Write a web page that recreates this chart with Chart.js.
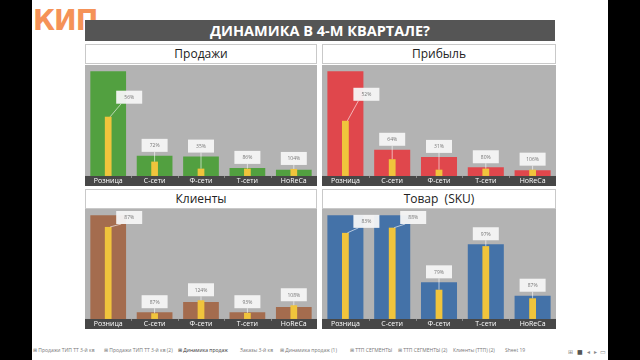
<!DOCTYPE html>
<html><head><meta charset="utf-8">
<script src="https://cdn.jsdelivr.net/npm/chart.js@4.4.1/dist/chart.umd.min.js"></script>
<style>
html,body{margin:0;padding:0;background:#fff;}
#stage{position:relative;width:640px;height:360px;overflow:hidden;background:#fff;font-family:"Open Sans",sans-serif;}
.blk{position:absolute;top:0;height:360px;background:#000;}
#logo{position:absolute;left:33px;top:3px;width:56px;height:34px;font:900 29px "DejaVu Sans",sans-serif;color:#f59258;line-height:34px;letter-spacing:-1px;transform:scaleX(0.93);transform-origin:left top;}
#title{position:absolute;left:85px;top:20px;width:470px;height:21px;background:#555;color:#fff;font:bold 14.5px "Open Sans",sans-serif;text-align:center;line-height:21px;}
.hdr{position:absolute;height:18px;background:#fff;border:1px solid #c9c9c9;box-sizing:content-box;text-align:center;font:12px "Open Sans",sans-serif;color:#222;line-height:18px;}
canvas.c{position:absolute;}
.tab{position:absolute;top:347px;font:5px "Open Sans",sans-serif;color:#777;white-space:nowrap;}
.ico{position:absolute;top:348px;font:6px "DejaVu Sans",sans-serif;color:#888;}
</style></head>
<body><div id="stage">
<div class="blk" style="left:0;width:32px"></div>
<div class="blk" style="left:608px;width:32px"></div>
<div id="logo">КИП</div>
<div id="title">ДИНАМИКА В 4-М КВАРТАЛЕ?</div>
<div class="hdr" style="left:85px;top:44px;width:230px">Продажи</div>
<div class="hdr" style="left:322px;top:44px;width:232px">Прибыль</div>
<div class="hdr" style="left:85px;top:189px;width:230px">Клиенты</div>
<div class="hdr" style="left:322px;top:189px;width:232px">Товар&nbsp;&nbsp;(SKU)</div>
<canvas class="c" id="c1" width="232" height="121" style="left:85px;top:65px"></canvas>
<canvas class="c" id="c2" width="234" height="121" style="left:322px;top:65px"></canvas>
<canvas class="c" id="c3" width="232" height="120" style="left:85px;top:209px"></canvas>
<canvas class="c" id="c4" width="234" height="120" style="left:322px;top:209px"></canvas>
<div id="tabs"></div>
<div class="ico" style="left:568px">⊞</div>
<div class="ico" style="left:577px;color:#555">■</div>
<div class="ico" style="left:587px">◂</div>
<div class="ico" style="left:594px">▸</div>
<div class="ico" style="left:600px">▭</div>
</div>
<script>
// ---- data ----
const categories = ['Розница','С-сети','Ф-сети','Т-сети','HoReCa'];

const salesMain   = [100, 19.2, 18.5, 7.7, 6.0];
const salesYellow = [56.6, 13.7, 7.0, 7.0, 6.7];
const salesLabels = ['56%','72%','35%','86%','104%'];

const profitMain   = [100, 25.0, 18.2, 8.3, 5.5];
const profitYellow = [52.7, 16.0, 6.0, 7.0, 6.0];
const profitLabels = ['52%','64%','31%','80%','106%'];

const clientsMain   = [100, 6.5, 16.4, 6.5, 11.6];
const clientsYellow = [88.7, 5.5, 18.0, 5.8, 13.2];
const clientsLabels = ['87%','87%','124%','93%','108%'];

const skuMain   = [100, 100, 35.3, 72.0, 22.4];
const skuYellow = [83.0, 88.0, 28.2, 70.2, 19.9];
const skuLabels = ['83%','88%','79%','97%','87%'];

const tabNames = ['⊞ Продажи ТИП ТТ 3-й кв','⊞ Продажи ТИП ТТ 3-й кв (2)','⊞ Динамика продаж','Заказы 3-й кв','⊞ Динамика продаж (1)','⊞ ТТП СЕГМЕНТЫ','⊞ ТТП СЕГМЕНТЫ (2)','Клиенты (ТТП) (2)','Sheet 19'];

// ---- styles ----
const YELLOW = '#f0c43c';
const tabX = [33,104,178,240,280,350,398,453,505];

const panelPlugin = {
  id: 'panel',
  beforeDraw(chart) {
    const {ctx, chartArea} = chart;
    ctx.save();
    ctx.fillStyle = '#b3b3b3';
    ctx.fillRect(0, 0, chart.width, chartArea.bottom);
    ctx.fillStyle = '#474747';
    ctx.fillRect(0, chartArea.bottom, chart.width, chart.height - chartArea.bottom);
    const xs = chart.scales.x;
    ctx.fillStyle = '#8a8a8a';
    for (let i = 1; i < categories.length; i++) {
      const bx = (xs.getPixelForValue(i - 1) + xs.getPixelForValue(i)) / 2;
      ctx.fillRect(Math.round(bx), chartArea.bottom, 1, 2);
    }
    ctx.restore();
  },
  afterDatasetsDraw(chart) {
    const {ctx, chartArea} = chart;
    const labels = chart.config.options.plugins.panel.labels;
    const lift = chart.config.options.plugins.panel.lift;
    const yMeta = chart.getDatasetMeta(0);
    const mMeta = chart.getDatasetMeta(1);
    const bw = 26, bh = 13;
    ctx.save();
    labels.forEach((txt, i) => {
      const yb = yMeta.data[i], mb = mMeta.data[i];
      const mainV = chart.data.datasets[1].data[i];
      let bx, by, lx, ly;
      if (mainV > 90) {
        bx = mb.x + 8;
        by = yb.y - lift - bh;
        if (by < chartArea.top + 2) by = chartArea.top + 2;
        lx = bx + 5; ly = by + bh;
      } else {
        const topY = Math.min(yb.y, mb.y);
        bx = mb.x - bw / 2;
        by = topY - 4 - bh;
        lx = mb.x; ly = by + bh;
      }
      ctx.strokeStyle = 'rgba(255,255,255,0.75)';
      ctx.lineWidth = 0.8;
      ctx.beginPath();
      ctx.moveTo(yb.x + (mainV > 90 ? 2 : 0), yb.y);
      ctx.lineTo(lx, ly);
      ctx.stroke();
      ctx.fillStyle = 'rgba(246,246,246,0.95)';
      ctx.fillRect(bx, by, bw, bh);
      ctx.fillStyle = '#777';
      ctx.font = '5px "Open Sans"';
      ctx.textAlign = 'center';
      ctx.textBaseline = 'middle';
      ctx.fillText(txt, bx + bw / 2, by + bh / 2 + 0.5);
    });
    ctx.restore();
  }
};

function makeChart(id, mainData, yellowData, labels, color, lift) {
  new Chart(document.getElementById(id), {
    type: 'bar',
    data: {
      labels: categories,
      datasets: [
        {data: yellowData, backgroundColor: YELLOW, barPercentage: 0.145, categoryPercentage: 1, grouped: false, order: 1},
        {data: mainData, backgroundColor: color, barPercentage: 0.77, categoryPercentage: 1, grouped: false, order: 2}
      ]
    },
    options: {
      responsive: false, animation: false,
      layout: {padding: 0},
      plugins: {legend: {display: false}, tooltip: {enabled: false}, panel: {labels, lift}},
      scales: {
        x: {grid: {display: false, drawTicks: false}, border: {display: false},
            ticks: {color: '#fff', font: {size: 7, family: '"Open Sans"', lineHeight: 1.15}, padding: 1, maxRotation: 0, autoSkip: false}},
        y: {display: false, min: 0, max: 106}
      }
    },
    plugins: [panelPlugin]
  });
}

makeChart('c1', salesMain, salesYellow, salesLabels, '#52a040', 13);
makeChart('c2', profitMain, profitYellow, profitLabels, '#e0474c', 20);
makeChart('c3', clientsMain, clientsYellow, clientsLabels, '#a46c4e', 4);
makeChart('c4', skuMain, skuYellow, skuLabels, '#4472a8', 5);

const tabs = document.getElementById('tabs');
tabNames.forEach((n, i) => {
  const d = document.createElement('div');
  d.className = 'tab';
  d.style.left = tabX[i] + 'px';
  if (i === 2) { d.style.color = '#333'; }
  d.textContent = n;
  tabs.appendChild(d);
});
</script>
</body></html>
